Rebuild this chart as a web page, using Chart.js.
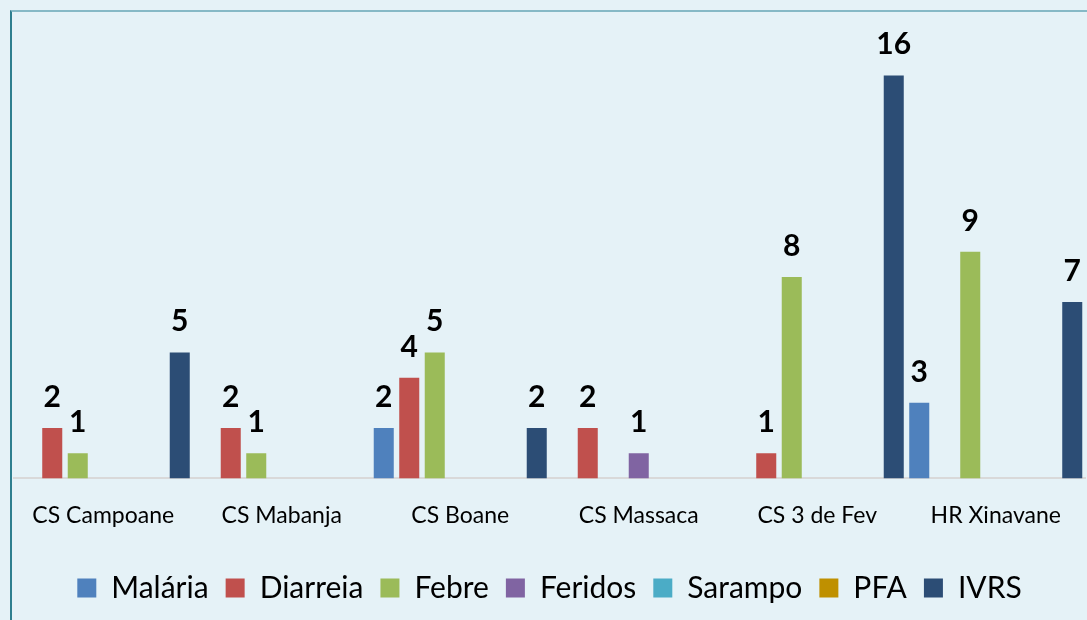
<!DOCTYPE html>
<html>
<head>
<meta charset="utf-8">
<script src="https://cdn.jsdelivr.net/npm/chart.js@4.4.1/dist/chart.umd.min.js"></script>
<style>
    html, body { margin:0; padding:0; background:#e5f2f7; }
    #wrap { position:relative; width:1087px; height:620px; overflow:hidden; }
    #frame { position:absolute; left:10px; top:10px; width:1200px; height:700px;
             border-left:2px solid #2e7f8f; border-top:2px solid #86b9c6; }
    #c { position:absolute; left:0; top:0; }
</style>
</head>
<body>
<div id="wrap">
    <div id="frame"></div>
    <canvas id="c" width="1087" height="620"></canvas>
</div>
<script>
const categories = ['CS Campoane', 'CS Mabanja', 'CS Boane', 'CS Massaca', 'CS 3 de Fev', 'HR Xinavane'];
const seriesNames = ['Malária', 'Diarreia', 'Febre', 'Feridos', 'Sarampo', 'PFA', 'IVRS'];
const malaria  = [0, 0, 2, 0, 0, 3];
const diarreia = [2, 2, 4, 2, 1, 0];
const febre    = [1, 1, 5, 0, 8, 9];
const feridos  = [0, 0, 0, 1, 0, 0];
const sarampo  = [0, 0, 0, 0, 0, 0];
const pfa      = [0, 0, 0, 0, 0, 0];
const ivrs     = [5, 0, 2, 0, 16, 7];
const colors = ['#4f81bd', '#c0504d', '#9bbb59', '#8064a2', '#4bacc6', '#bf9000', '#2c4d75'];

const values = [malaria, diarreia, febre, feridos, sarampo, pfa, ivrs];

// value labels above bars (zeros are skipped)
const barLabels = {
    id: 'barLabels',
    afterDatasetsDraw(chart) {
        const ctx = chart.ctx;
        ctx.save();
        ctx.font = 'bold 30px Lato';
        ctx.fillStyle = '#000';
        ctx.textAlign = 'center';
        ctx.textBaseline = 'alphabetic';
        chart.data.datasets.forEach((ds, i) => {
            chart.getDatasetMeta(i).data.forEach((bar, j) => {
                const v = ds.data[j];
                if (v > 0) ctx.fillText(String(v), bar.x, bar.y - 21);
            });
        });
        ctx.restore();
    }
};

new Chart(document.getElementById('c'), {
    type: 'bar',
    data: {
        labels: categories,
        datasets: seriesNames.map((name, i) => ({
            label: name,
            data: values[i],
            backgroundColor: colors[i],
            categoryPercentage: 1.0,
            barPercentage: 0.785
        }))
    },
    options: {
        responsive: false,
        animation: false,
        layout: { padding: { left: 14, right: 2, top: 25, bottom: 7 } },
        scales: {
            x: {
                grid: { display: false },
                border: { display: true, color: '#d9d9d9', width: 2 },
                ticks: { color: '#000', font: { family: 'Lato', size: 23 }, padding: 15, maxRotation: 0 },
                // extra room between the category labels and the legend
                afterFit(scale) { scale.height += 12; }
            },
            y: { display: false, min: 0, max: 18 }
        },
        plugins: {
            legend: {
                position: 'bottom',
                labels: {
                    color: '#000',
                    font: { family: 'Lato', size: 30 },
                    boxWidth: 19,
                    boxHeight: 19,
                    padding: 17
                }
            },
            tooltip: { enabled: false }
        }
    },
    plugins: [barLabels]
});
</script>
</body>
</html>
